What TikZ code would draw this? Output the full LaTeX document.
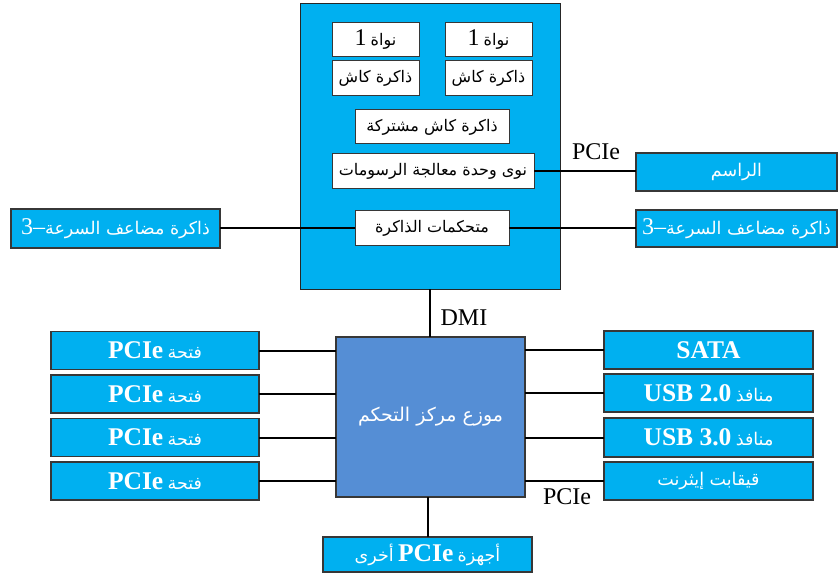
\documentclass[tikz,border=0pt]{standalone}
\usepackage{fontspec}
\setmainfont{Liberation Serif}
\newfontfamily\arabicfont[Script=Arabic]{DejaVu Sans}
\TeXXeTstate=1
\definecolor{cyanbox}{RGB}{0,176,240}
\definecolor{hubblue}{RGB}{85,142,213}
\definecolor{edge}{RGB}{55,55,55}
% Arabic run, set right to left
\newcommand{\AR}[1]{\beginR{\arabicfont #1}\endR}
% Latin figures and labels inside Arabic text
\newcommand{\fig}[1]{{\fontsize{24}{26}\selectfont #1}}
\newcommand{\bold}[1]{{\bfseries\fontsize{25.5}{28}\selectfont #1}}
\begin{document}
\begin{tikzpicture}[x=1pt,y=-1pt,
  every node/.style={inner sep=0pt,outer sep=0pt},
  cpublock/.style={draw=black!85,fill=cyanbox,line width=1pt},
  inbox/.style={draw=edge,fill=white,line width=1pt,font=\fontsize{16}{18}\selectfont},
  outbox/.style={draw=edge,fill=cyanbox,line width=1.3pt,text=white,font=\fontsize{17.5}{21}\selectfont},
  hubbox/.style={draw=edge,fill=hubblue,line width=1.3pt,text=white,font=\fontsize{19}{22}\selectfont},
  link/.style={draw=black,line width=2pt},
  lbl/.style={font=\fontsize{24}{26}\selectfont}
]
\useasboundingbox (0,0) rectangle (839,575);

% processor package
\node[cpublock,minimum width=260,minimum height=285] (cpu) at (430,146.5) {};
\node[inbox,minimum width=87,minimum height=34] (coreA) at (375.5,40) {\beginR\AR{نواة} \fig{1}\endR};
\node[inbox,minimum width=87,minimum height=34] (coreB) at (488.5,40) {\beginR\AR{نواة} \fig{1}\endR};
\node[inbox,minimum width=87,minimum height=35] (cacheA) at (375.5,78.5) {\AR{ذاكرة كاش}};
\node[inbox,minimum width=87,minimum height=35] (cacheB) at (488.5,78.5) {\AR{ذاكرة كاش}};
\node[inbox,minimum width=154,minimum height=34] (shared) at (432,127) {\AR{ذاكرة كاش مشتركة}};
\node[inbox,minimum width=202,minimum height=35] (gpu) at (433,171.5) {\AR{نوى وحدة معالجة الرسومات}};
\node[inbox,minimum width=154,minimum height=35] (memctl) at (432,228.5) {\AR{متحكمات الذاكرة}};

% memory and display
\node[outbox,minimum width=209,minimum height=39] (ddrL) at (115.5,228.5)
  {\beginR{\arabicfont ذاكرة مضاعف السرعة}\beginL\fig{3–}\endL\endR};
\node[outbox,minimum width=201,minimum height=38] (raster) at (736.5,172) {\AR{الراسم}};
\node[outbox,minimum width=201,minimum height=37] (ddrR) at (736.5,228.5)
  {\beginR{\arabicfont ذاكرة مضاعف السرعة}\beginL\fig{3–}\endL\endR};

% platform controller hub
\node[hubbox,minimum width=189,minimum height=160] (hub) at (430.5,417) {\AR{موزع مركز التحكم}};

% expansion slots
\foreach \n/\y in {1/350.5,2/394,3/437.5,4/481}{
  \node[outbox,minimum width=208,minimum height=38] (slot\n) at (155,\y)
    {\beginR\AR{فتحة} \bold{PCIe}\endR};
}

% peripherals
\node[outbox,minimum width=209,minimum height=38] (sata) at (708.5,350) {\bold{SATA}};
\node[outbox,minimum width=209,minimum height=38] (usbA) at (708.5,393)
  {\beginR\AR{منافذ} \beginL\bold{USB 2.0}\endL\endR};
\node[outbox,minimum width=209,minimum height=39] (usbB) at (708.5,437.5)
  {\beginR\AR{منافذ} \beginL\bold{USB 3.0}\endL\endR};
\node[outbox,minimum width=209,minimum height=38] (eth) at (708.5,481) {\AR{قيقابت إيثرنت}};
\node[outbox,minimum width=209,minimum height=35] (other) at (427.5,554.5)
  {\beginR\AR{أجهزة} \bold{PCIe} \AR{أخرى}\endR};

% connections
\draw[link] (gpu.east) -- (gpu.east -| raster.west);
\draw[link] (memctl.west) -- (memctl.west -| cpu.west);
\draw[link] (cpu.west |- memctl.west) -- (ddrL.east |- memctl.west);
\draw[link] (memctl.east) -- (memctl.east -| cpu.east);
\draw[link] (cpu.east |- memctl.east) -- (ddrR.west |- memctl.east);
\draw[link] (cpu.south) -- (hub.north -| cpu.south);
\foreach \n in {1,2,3,4}{
  \draw[link] (slot\n.east) -- (slot\n.east -| hub.west);
}
\foreach \b in {sata,usbA,usbB,eth}{
  \draw[link] (\b.west) -- (\b.west -| hub.east);
}
\draw[link] (other.north) -- (other.north |- hub.south);

% bus labels
\node[lbl] (pcieA) at (596,152) {PCIe};
\node[lbl] (dmi) at (464,318) {DMI};
\node[lbl] (pcieB) at (567,497) {PCIe};
\end{tikzpicture}
\end{document}
